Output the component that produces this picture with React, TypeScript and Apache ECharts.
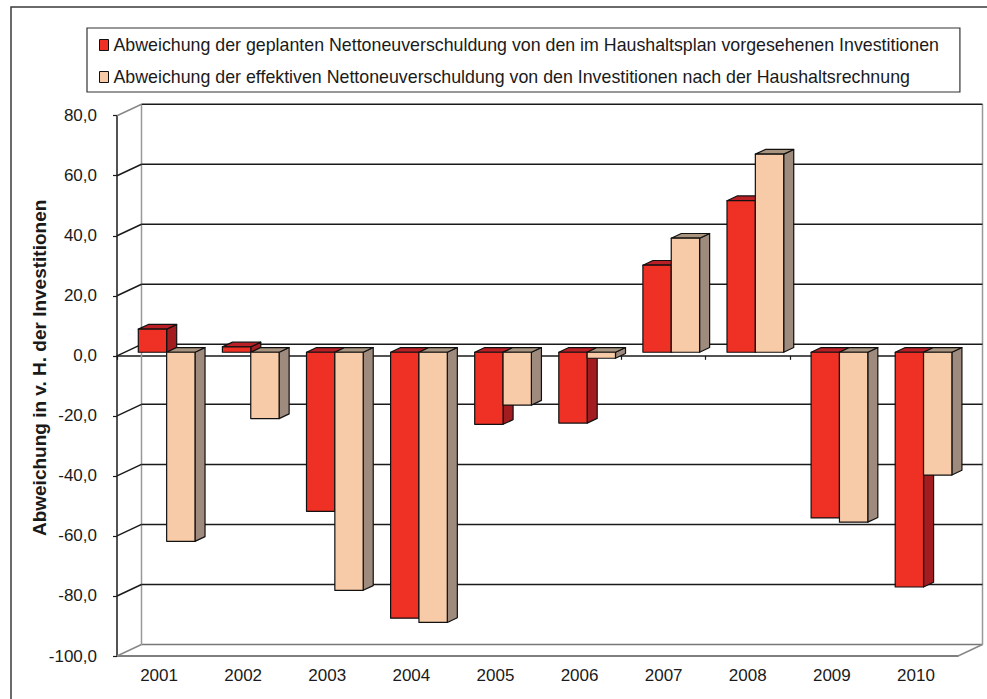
import React, { useEffect, useRef } from "react";
import * as echarts from "echarts";

const years = ["2001", "2002", "2003", "2004", "2005", "2006", "2007", "2008", "2009", "2010"];
const geplant = [7.7, 1.8, -53, -88.6, -24, -23.6, 29, 50.5, -55.2, -78.2];
const effektiv = [-63, -22.1, -79.3, -90, -17.6, -2, 38, 66, -56.6, -40.9];
const yTicks = [-100, -80, -60, -40, -20, 0, 20, 40, 60, 80];

const nameGeplant =
  "Abweichung der geplanten Nettoneuverschuldung von den im Haushaltsplan vorgesehenen Investitionen";
const nameEffektiv =
  "Abweichung der effektiven Nettoneuverschuldung von den Investitionen nach der Haushaltsrechnung";

// depth of the 3D box (back wall offset)
const DX = 24.5;
const DY = -11.5;
const F = 0.31; // front face of bars, as share of depth
const D = 0.41; // bar depth, as share of depth
const BAR = 0.337; // bar width as share of category

const FONT = "'Liberation Sans', Arial, sans-serif";

function barRenderer(seriesPos: number, front: string, top: string, side: string) {
  return (params: any, api: any) => {
    const idx = api.value(0);
    const v = api.value(1);
    const p0 = api.coord([idx, 0]);
    const p1 = api.coord([idx, v]);
    const catW = api.size([1, 0])[0];
    const w = catW * BAR;
    const cx = p0[0] + F * DX;
    const L = seriesPos === 0 ? cx - w : cx;
    const R = L + w;
    const y0 = p0[1] + F * DY;
    const yv = p1[1] + F * DY;
    const yt = Math.min(y0, yv);
    const yb = Math.max(y0, yv);
    const dx = D * DX;
    const dy = D * DY;
    const stroke = { stroke: "#111", lineWidth: 1.2, lineJoin: "round" };
    return {
      type: "group",
      children: [
        {
          type: "polygon",
          shape: { points: [[R, yt], [R + dx, yt + dy], [R + dx, yb + dy], [R, yb]] },
          style: { fill: side, ...stroke },
        },
        {
          type: "polygon",
          shape: { points: [[L, yt], [R, yt], [R + dx, yt + dy], [L + dx, yt + dy]] },
          style: { fill: top, ...stroke },
        },
        {
          type: "rect",
          shape: { x: L, y: yt, width: w, height: Math.max(yb - yt, 0.5) },
          style: { fill: front, ...stroke },
        },
      ],
    };
  };
}

export default function App() {
  const ref = useRef<HTMLDivElement>(null);

  useEffect(() => {
    if (!ref.current) return;
    const chart = echarts.init(ref.current, null, { renderer: "svg" });

    const option: any = {
      animation: false,
      backgroundColor: "#ffffff",
      textStyle: { fontFamily: FONT },
      graphic: [
        {
          type: "rect",
          shape: { x: 11, y: 7, width: 1000, height: 1000 },
          style: { fill: "none", stroke: "#3a3a3a", lineWidth: 1.5 },
          silent: true,
          z: -10,
        },
      ],
      legend: {
        orient: "vertical",
        left: 87,
        top: 28,
        padding: [7, 21, 5, 12],
        itemGap: 12,
        itemWidth: 9,
        itemHeight: 11,
        borderColor: "#333",
        borderWidth: 1.2,
        icon: "rect",
        itemStyle: { borderColor: "#111", borderWidth: 1 },
        textStyle: { fontSize: 17.8, color: "#1a1a1a", fontFamily: FONT, lineHeight: 20 },
        data: [nameGeplant, nameEffektiv],
        selectedMode: false,
      },
      grid: { left: 117, right: 29, top: 115.7, bottom: 43, containLabel: false },
      xAxis: [
        {
          type: "category",
          data: years,
          position: "bottom",
          axisLine: { show: true, onZero: false, lineStyle: { color: "#555", width: 1.5 } },
          axisTick: { show: false },
          axisLabel: { fontSize: 17, color: "#1a1a1a", margin: 11, fontFamily: FONT },
          splitLine: { show: false },
        },
        {
          type: "category",
          data: years,
          position: "bottom",
          axisLine: { show: true, onZero: true, lineStyle: { color: "#1a1a1a", width: 1.5 } },
          axisTick: { show: true, length: 4, lineStyle: { color: "#1a1a1a", width: 1.2 } },
          axisLabel: { show: false },
          splitLine: { show: false },
        },
      ],
      yAxis: {
        type: "value",
        min: -100,
        max: 80,
        interval: 20,
        name: "Abweichung in v. H. der Investitionen",
        nameLocation: "middle",
        nameRotate: 90,
        nameGap: 68,
        nameMoveOverlap: false,
        nameTextStyle: {
          fontSize: 19,
          fontWeight: "bold",
          color: "#1a1a1a",
          fontFamily: FONT,
          padding: [0, 0, 0, 36],
        },
        axisLine: { show: true, lineStyle: { color: "#1a1a1a", width: 1.5 } },
        axisTick: { show: true, length: 4, lineStyle: { color: "#1a1a1a", width: 1.2 } },
        axisLabel: {
          fontSize: 17,
          color: "#1a1a1a",
          margin: 20,
          fontFamily: FONT,
          formatter: (v: number) => v.toFixed(1).replace(".", ","),
        },
        splitLine: { show: false },
      },
      series: [
        {
          type: "custom",
          name: "walls",
          xAxisIndex: 0,
          yAxisIndex: 0,
          silent: true,
          clip: false,
          z: 1,
          data: yTicks.map((v) => [0, v]),
          renderItem: (params: any, api: any) => {
            const cs = params.coordSys;
            const v = api.value(1);
            const y = api.coord([0, v])[1];
            const xl = cs.x;
            const xr = cs.x + cs.width;
            const yTop = cs.y;
            const yBot = cs.y + cs.height;
            const isEdge = v === yTicks[0];
            const children: any[] = [
              {
                type: "line",
                shape: { x1: xl + DX, y1: y + DY, x2: xr + DX, y2: y + DY },
                style: { stroke: isEdge ? "#777" : "#1a1a1a", lineWidth: 1.5 },
              },
              {
                type: "line",
                shape: { x1: xl, y1: y, x2: xl + DX, y2: y + DY },
                style: { stroke: isEdge || v === yTicks[yTicks.length - 1] ? "#888" : "#1a1a1a", lineWidth: 1.5 },
              },
            ];
            if (params.dataIndex === 0) {
              children.push(
                {
                  type: "line",
                  shape: { x1: xl + DX, y1: yTop + DY, x2: xl + DX, y2: yBot + DY },
                  style: { stroke: "#999", lineWidth: 1.5 },
                },
                {
                  type: "line",
                  shape: { x1: xr + DX, y1: yTop + DY, x2: xr + DX, y2: yBot + DY },
                  style: { stroke: "#999", lineWidth: 1.5 },
                },
                {
                  type: "line",
                  shape: { x1: xr, y1: yBot, x2: xr + DX, y2: yBot + DY },
                  style: { stroke: "#888", lineWidth: 1.5 },
                }
              );
            }
            return { type: "group", children };
          },
        },
        {
          type: "custom",
          name: nameGeplant,
          xAxisIndex: 0,
          yAxisIndex: 0,
          clip: false,
          z: 3,
          itemStyle: { color: "#EE3124" },
          data: geplant.map((v, i) => [i, v]),
          renderItem: barRenderer(0, "#EE3124", "#B91F24", "#A31C20"),
        },
        {
          type: "custom",
          name: nameEffektiv,
          xAxisIndex: 0,
          yAxisIndex: 0,
          clip: false,
          z: 3,
          itemStyle: { color: "#F8CBA8" },
          data: effektiv.map((v, i) => [i, v]),
          renderItem: barRenderer(1, "#F8CBA8", "#A8937F", "#9F8B7E"),
        },
      ],
    };

    chart.setOption(option);
    return () => chart.dispose();
  }, []);

  return (
    <div
      ref={ref}
      style={{ position: "absolute", left: 0, top: 0, width: 987, height: 699, background: "#fff" }}
    />
  );
}
